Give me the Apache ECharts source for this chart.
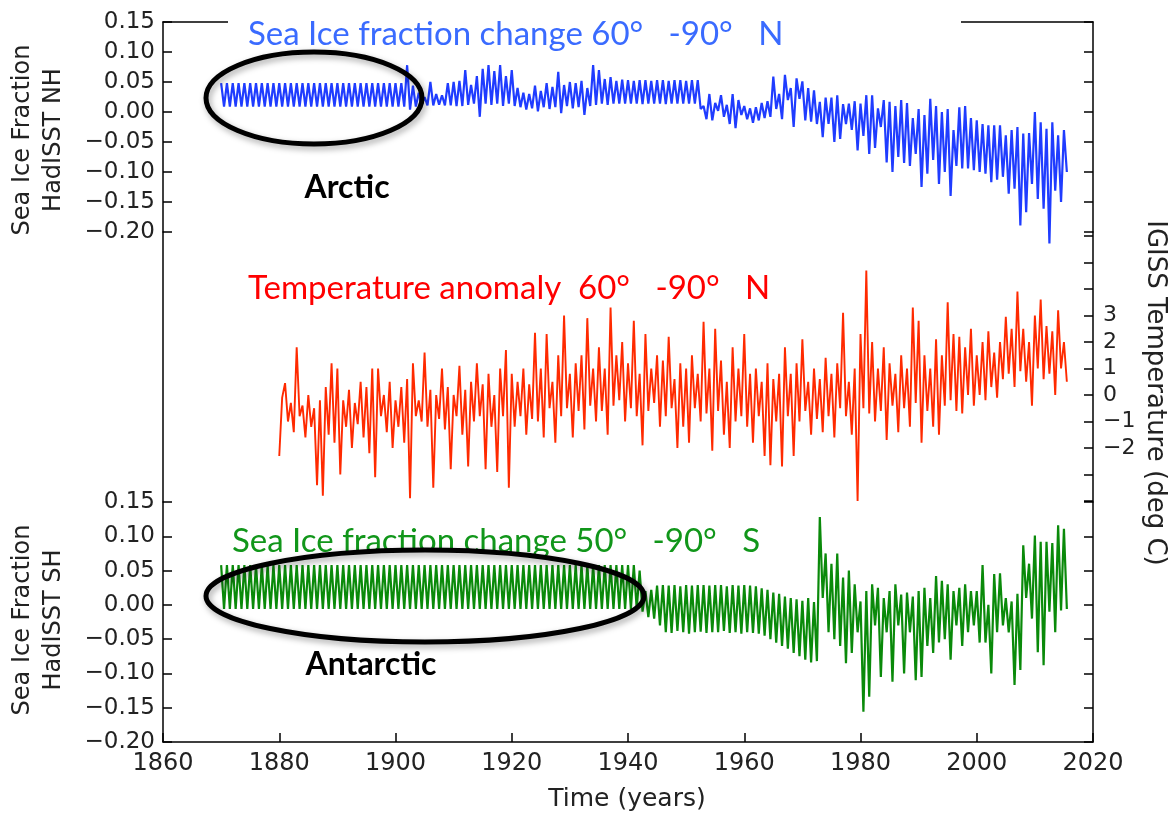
<!DOCTYPE html>
<html><head><meta charset="utf-8">
<script src="https://cdn.jsdelivr.net/npm/echarts@6/dist/echarts.min.js"></script>
<style>html,body{margin:0;padding:0;background:#fff}#c{width:1170px;height:815px}</style>
</head><body><div id="c"></div>
<script>
// two readings per year (seasonal high, seasonal low)
const STEP = 0.5;
const NH_START = 1870;
const SH_START = 1870;
const T_START = 1880;

const xTicks = [1860, 1880, 1900, 1920, 1940, 1960, 1980, 2000, 2020];
const iceTicks = [0.15, 0.10, 0.05, 0.00, -0.05, -0.10, -0.15, -0.20];
const tempTickLabels = [3, 2, 1, 0, -1, -2];

const nhIce = [
// 1870-1879
0.048,0.009, 0.048,0.009, 0.048,0.009, 0.048,0.009, 0.048,0.009, 0.048,0.009, 0.048,0.009, 0.048,0.009, 0.048,0.009, 0.048,0.009,
// 1880-1889
0.048,0.009, 0.048,0.009, 0.048,0.009, 0.048,0.009, 0.048,0.009, 0.048,0.009, 0.048,0.009, 0.048,0.009, 0.048,0.009, 0.048,0.009,
// 1890-1899
0.048,0.009, 0.048,0.009, 0.048,0.009, 0.048,0.009, 0.048,0.009, 0.048,0.009, 0.048,0.009, 0.048,0.009, 0.048,0.009, 0.048,0.009,
// 1900-1909
0.048,0.009, 0.048,0.009, 0.078,0.004, 0.044,0.009, 0.032,0.011, 0.025,0.011, 0.050,0.011, 0.030,0.012, 0.028,0.011, 0.048,0.011,
// 1910-1919
0.050,0.010, 0.052,0.010, 0.070,0.012, 0.045,0.014, 0.060,-0.008, 0.072,0.014, 0.078,0.012, 0.068,0.014, 0.078,0.010, 0.060,0.014,
// 1920-1929
0.070,0.010, 0.040,0.008, 0.032,0.004, 0.030,0.006, 0.044,0.001, 0.035,0.008, 0.048,0.005, 0.042,0.008, 0.067,-0.002, 0.045,0.010,
// 1930-1939
0.050,0.006, 0.048,0.008, 0.052,-0.005, 0.040,0.010, 0.078,0.012, 0.070,0.014, 0.055,0.012, 0.058,0.014, 0.052,0.014, 0.054,0.014,
// 1940-1949
0.053,0.014, 0.052,0.014, 0.053,0.013, 0.053,0.014, 0.052,0.014, 0.053,0.014, 0.053,0.013, 0.052,0.014, 0.053,0.014, 0.053,0.014,
// 1950-1959
0.052,0.014, 0.053,0.014, 0.053,0.005, 0.010,-0.012, 0.030,-0.014, 0.015,0.002, 0.028,-0.008, 0.012,-0.020, 0.030,-0.027, 0.020,-0.005,
// 1960-1969
0.010,-0.012, 0.006,-0.018, 0.008,-0.014, 0.015,-0.010, 0.018,-0.008, 0.059,0.005, 0.030,-0.012, 0.062,0.020, 0.040,-0.025, 0.056,0.022,
// 1970-1979
0.051,-0.014, 0.040,-0.016, 0.036,-0.020, 0.017,-0.042, 0.024,-0.020, 0.024,-0.050, 0.028,-0.045, 0.013,-0.020, 0.014,-0.030, 0.018,-0.064,
// 1980-1989
0.014,-0.040, 0.028,-0.070, 0.028,-0.060, 0.006,-0.025, 0.020,-0.084, 0.017,-0.100, 0.010,-0.075, 0.020,-0.085, 0.015,-0.090, -0.010,-0.070,
// 1990-1999
0.005,-0.125, -0.005,-0.103, 0.022,-0.080, 0.010,-0.120, 0.000,-0.100, 0.005,-0.140, -0.030,-0.090, 0.008,-0.094, 0.010,-0.094, -0.010,-0.097,
// 2000-2009
-0.014,-0.100, -0.020,-0.103, -0.022,-0.117, -0.022,-0.113, -0.022,-0.108, -0.039,-0.136, -0.030,-0.128, -0.025,-0.189, -0.036,-0.167, -0.035,-0.120,
// 2010-2015
0.000,-0.145, -0.017,-0.161, -0.028,-0.219, -0.017,-0.131, -0.039,-0.150, -0.030,-0.100
];

const shIce = [
// 1870-1879
0.058,-0.006, 0.058,-0.006, 0.058,-0.006, 0.058,-0.006, 0.058,-0.006, 0.058,-0.006, 0.058,-0.006, 0.058,-0.006, 0.058,-0.006, 0.058,-0.006,
// 1880-1889
0.058,-0.006, 0.058,-0.006, 0.058,-0.006, 0.058,-0.006, 0.058,-0.006, 0.058,-0.006, 0.058,-0.006, 0.058,-0.006, 0.058,-0.006, 0.058,-0.006,
// 1890-1899
0.058,-0.006, 0.058,-0.006, 0.058,-0.006, 0.058,-0.006, 0.058,-0.006, 0.058,-0.006, 0.058,-0.006, 0.058,-0.006, 0.058,-0.006, 0.058,-0.006,
// 1900-1909
0.058,-0.006, 0.058,-0.006, 0.058,-0.006, 0.058,-0.006, 0.058,-0.006, 0.058,-0.006, 0.058,-0.006, 0.058,-0.006, 0.058,-0.006, 0.058,-0.006,
// 1910-1919
0.058,-0.006, 0.058,-0.006, 0.058,-0.006, 0.058,-0.006, 0.058,-0.006, 0.058,-0.006, 0.058,-0.006, 0.058,-0.006, 0.058,-0.006, 0.058,-0.006,
// 1920-1929
0.058,-0.006, 0.058,-0.006, 0.058,-0.006, 0.058,-0.006, 0.058,-0.006, 0.058,-0.006, 0.058,-0.006, 0.058,-0.006, 0.058,-0.006, 0.058,-0.006,
// 1930-1939
0.058,-0.006, 0.058,-0.006, 0.058,-0.006, 0.058,-0.006, 0.058,-0.006, 0.058,-0.006, 0.058,-0.006, 0.058,-0.006, 0.058,-0.006, 0.058,-0.006,
// 1940-1949
0.058,-0.006, 0.058,-0.006, 0.050,-0.010, 0.020,-0.018, 0.022,-0.020, 0.028,-0.030, 0.029,-0.040, 0.028,-0.041, 0.029,-0.038, 0.027,-0.040,
// 1950-1959
0.029,-0.042, 0.028,-0.040, 0.029,-0.039, 0.029,-0.041, 0.028,-0.040, 0.029,-0.040, 0.029,-0.038, 0.027,-0.041, 0.029,-0.040, 0.028,-0.042,
// 1960-1969
0.029,-0.040, 0.028,-0.041, 0.027,-0.042, 0.024,-0.045, 0.022,-0.050, 0.018,-0.055, 0.016,-0.060, 0.012,-0.064, 0.010,-0.070, 0.008,-0.075,
// 1970-1979
0.006,-0.080, 0.010,-0.084, 0.004,-0.082, 0.128,0.010, 0.075,-0.040, 0.060,-0.050, 0.075,-0.060, 0.040,-0.085, 0.050,-0.070, 0.030,-0.040,
// 1980-1989
0.005,-0.156, 0.020,-0.134, 0.030,-0.030, 0.025,-0.105, 0.010,-0.040, 0.020,-0.112, 0.030,-0.030, 0.015,-0.100, 0.018,-0.040, 0.012,-0.110,
// 1990-1999
0.020,-0.105, 0.025,-0.060, 0.010,-0.070, 0.042,-0.055, 0.035,-0.050, 0.030,-0.080, 0.020,-0.030, 0.025,-0.060, 0.030,-0.040, 0.020,-0.030,
// 2000-2009
0.020,-0.055, 0.058,-0.055, 0.000,-0.100, 0.045,-0.040, 0.046,-0.030, 0.010,-0.040, 0.005,-0.117, 0.016,-0.095, 0.087,0.010, 0.060,-0.020,
// 2010-2015
0.101,-0.069, 0.092,-0.088, 0.092,-0.010, 0.090,-0.040, 0.116,-0.008, 0.111,-0.006
];

const tempAnom = [
// 1880-1889
-2.3,-0.1, 0.45,-1.0, -0.3,-1.4, 1.8,-0.8, -0.4,-1.6, 0.0,-1.2, -0.5,-3.4, -0.2,-3.8, 0.3,-1.5, 1.2,-1.8,
// 1890-1899
1.0,-3.0, -0.2,-1.2, 0.2,-2.0, -0.3,-1.1, 0.5,-1.6, 0.3,-2.2, 1.0,-3.1, 1.0,-0.8, 0.0,-1.4, 0.5,-2.0,
// 1900-1909
-0.2,-1.2, 0.3,-1.8, 0.6,-3.9, 1.2,-0.8, -0.2,-1.0, 1.6,-1.2, 0.2,-3.5, 0.0,-0.9, 1.0,-1.3, 0.3,-2.8,
// 1910-1919
0.0,-0.8, 1.1,-1.5, 0.2,-2.7, 0.5,-1.0, 1.2,-0.8, 0.4,-2.8, 0.8,-1.2, 0.0,-2.9, 1.0,-0.8, 1.7,-3.5,
// 1920-1929
0.8,-1.2, 0.5,-0.8, 1.0,-1.5, 0.4,-0.9, 2.35,-1.0, 1.0,-1.6, 2.3,-0.5, 0.5,-1.8, 1.5,-0.8, 3.0,-0.5,
// 1930-1939
0.8,-1.6, 1.2,-0.6, 1.5,-1.3, 2.9,-0.4, 1.0,-1.0, 1.8,-0.6, 1.0,-1.5, 3.3,-0.4, 1.5,-0.2, 2.0,-1.0,
// 1940-1949
1.2,-0.5, 2.8,-0.8, 0.8,-1.9, 2.3,-0.6, 1.0,-0.3, 1.5,-1.2, 1.3,-0.8, 2.2,-0.5, 0.6,-2.0, 1.2,-1.2,
// 1950-1959
1.0,-1.8, 1.5,-0.5, 0.8,-1.0, 2.76,-0.7, 1.0,-2.1, 2.5,-0.6, 1.3,-1.5, 0.5,-2.0, 1.8,-1.0, 1.0,-0.8,
// 1960-1969
2.3,-1.2, 0.8,-1.8, 1.0,-0.8, 0.5,-2.3, 1.2,-2.65, 0.6,-1.0, 0.8,-2.7, 1.8,-0.8, 0.8,-2.3, 1.2,-1.0,
// 1970-1979
2.1,-0.6, 0.5,-1.5, 1.0,-0.9, 0.6,-1.4, 1.4,-0.8, 0.8,-1.6, 1.2,-0.5, 3.1,-0.8, 0.5,-1.5, 1.0,-4.0,
// 1980-1989
2.3,-0.5, 4.7,-0.7, 2.0,-1.0, 1.0,-0.6, 1.8,-1.7, 1.2,-0.4, 0.8,-1.4, 1.5,-0.5, 1.0,-1.2, 3.3,-0.3,
// 1990-1999
2.8,-1.8, 1.5,-0.6, 1.0,-1.2, 2.1,-1.5, 1.5,-0.4, 3.5,-0.2, 2.3,-0.6, 2.2,-0.7, 1.8,0.0, 2.5,-0.4,
// 2000-2009
1.5,0.0, 2.0,-0.2, 2.4,0.3, 1.6,-0.1, 2.0,0.6, 2.95,0.8, 2.5,0.3, 3.9,0.9, 2.5,0.5, 2.0,-0.4,
// 2010-2015
3.0,1.0, 3.6,0.6, 2.6,0.8, 2.4,0.0, 3.2,1.0, 2.0,0.5
];

function toPoints(start, vals) { return vals.map((v, i) => [start + i * STEP, v]); }
const minus = s => s.replace('-', '\u2212');
const iceFmt = v => {
  const hit = iceTicks.find(t => Math.abs(t - v) < 1e-6);
  if (hit === undefined) return '';
  return minus(Math.abs(hit) < 1e-9 ? '0.00' : hit.toFixed(2));
};
const tempFmt = v => {
  const hit = tempTickLabels.find(t => Math.abs(t - v) < 1e-6);
  return hit === undefined ? '' : minus(String(hit));
};
const xFmt = v => xTicks.includes(Math.round(v)) ? String(Math.round(v)) : '';

const AX = { color: '#000', width: 1.5 };
const tickFont = { fontFamily: 'DejaVu Sans', fontSize: 23, color: '#222' };
const L = 163, W = 930;
const titleFont = '33px Lato';

const option = {
  animation: false,
  backgroundColor: '#fff',
  grid: [
    { left: L, width: W, top: 22, height: 210 },
    { left: L, width: W, top: 232, height: 270 },
    { left: L, width: W, top: 236, height: 265 },
    { left: L, width: W, top: 502, height: 240 }
  ],
  xAxis: [
    { gridIndex: 0, type: 'value', min: 1860, max: 2020, interval: 20, position: 'top',
      axisLine: { show: true, onZero: false, lineStyle: AX }, axisTick: { show: false }, axisLabel: { show: false }, splitLine: { show: false } },
    { gridIndex: 1, type: 'value', min: 1860, max: 2020, show: false },
    { gridIndex: 2, type: 'value', min: 1860, max: 2020, show: false },
    { gridIndex: 3, type: 'value', min: 1860, max: 2020, interval: 20, position: 'bottom',
      axisLine: { show: true, onZero: false, lineStyle: AX },
      axisTick: { show: true, inside: true, length: 9, lineStyle: AX },
      axisLabel: { fontFamily: 'DejaVu Sans', fontSize: 24, color: '#222', margin: 10, formatter: xFmt },
      splitLine: { show: false } }
  ],
  yAxis: [
    { gridIndex: 0, type: 'value', position: 'left', min: -0.2, max: 0.15, interval: 0.05,
      axisLine: { show: true, onZero: false, lineStyle: AX },
      axisTick: { show: true, inside: true, length: 9, lineStyle: AX },
      axisLabel: Object.assign({ margin: 8, formatter: iceFmt }, tickFont), splitLine: { show: false } },
    { gridIndex: 0, type: 'value', position: 'right', min: -0.2, max: 0.15, interval: 0.05,
      axisLine: { show: true, onZero: false, lineStyle: AX },
      axisTick: { show: true, inside: true, length: 9, lineStyle: AX },
      axisLabel: { show: false }, splitLine: { show: false } },
    { gridIndex: 1, type: 'value', position: 'left', min: 0, max: 1,
      axisLine: { show: true, onZero: false, lineStyle: AX }, axisTick: { show: false }, axisLabel: { show: false }, splitLine: { show: false } },
    { gridIndex: 1, type: 'value', position: 'right', min: 0, max: 1,
      axisLine: { show: true, onZero: false, lineStyle: AX }, axisTick: { show: false }, axisLabel: { show: false }, splitLine: { show: false } },
    { gridIndex: 2, type: 'value', position: 'right', min: -4, max: 6, interval: 1,
      axisLine: { show: false, onZero: false },
      axisTick: { show: true, inside: true, length: 9, lineStyle: AX },
      axisLabel: { margin: 10, formatter: tempFmt, fontFamily: 'DejaVu Sans', fontSize: 22, color: '#222' }, splitLine: { show: false } },
    { gridIndex: 3, type: 'value', position: 'left', min: -0.2, max: 0.15, interval: 0.05,
      axisLine: { show: true, onZero: false, lineStyle: AX },
      axisTick: { show: true, inside: true, length: 9, lineStyle: AX },
      axisLabel: Object.assign({ margin: 8, formatter: iceFmt }, tickFont), splitLine: { show: false } },
    { gridIndex: 3, type: 'value', position: 'right', min: -0.2, max: 0.15, interval: 0.05,
      axisLine: { show: true, onZero: false, lineStyle: AX },
      axisTick: { show: true, inside: true, length: 9, lineStyle: AX },
      axisLabel: { show: false }, splitLine: { show: false } }
  ],
  series: [
    { name: 'NH', type: 'line', xAxisIndex: 0, yAxisIndex: 0, data: toPoints(NH_START, nhIce),
      showSymbol: false, clip: false, silent: true, z: 3,
      lineStyle: { color: '#1f3cff', width: 2.2 }, itemStyle: { color: '#1f3cff' } },
    { name: 'Temp', type: 'line', xAxisIndex: 2, yAxisIndex: 4, data: toPoints(T_START, tempAnom),
      showSymbol: false, clip: false, silent: true, z: 3,
      lineStyle: { color: '#ff2a00', width: 1.9 }, itemStyle: { color: '#ff2a00' } },
    { name: 'SH', type: 'line', xAxisIndex: 3, yAxisIndex: 5, data: toPoints(SH_START, shIce),
      showSymbol: false, clip: false, silent: true, z: 3,
      lineStyle: { color: '#0a8a0a', width: 2.2 }, itemStyle: { color: '#0a8a0a' } }
  ],
  graphic: [
    { type: 'rect', silent: true, z: 10, shape: { x: 228, y: 0, width: 733, height: 30 }, style: { fill: '#fff' } },
    { type: 'text', silent: true, z: 11, x: 248, y: 34,
      style: { text: 'Sea Ice fraction change 60°   -90°   N', font: titleFont, fill: '#3a6bff', textAlign: 'left', textVerticalAlign: 'middle', align: 'left', verticalAlign: 'middle' } },
    { type: 'text', silent: true, z: 11, x: 248, y: 288,
      style: { text: 'Temperature anomaly  60°   -90°   N', font: titleFont, fill: '#ff0000', textAlign: 'left', textVerticalAlign: 'middle', align: 'left', verticalAlign: 'middle' } },
    { type: 'text', silent: true, z: 11, x: 232, y: 541,
      style: { text: 'Sea Ice fraction change 50°   -90°   S', font: titleFont, fill: '#11961a', textAlign: 'left', textVerticalAlign: 'middle', align: 'left', verticalAlign: 'middle' } },
    { type: 'text', silent: true, z: 11, x: 347, y: 188,
      style: { text: 'Arctic', font: 'bold 32px Lato', fill: '#000', textAlign: 'center', textVerticalAlign: 'middle', align: 'center', verticalAlign: 'middle' } },
    { type: 'text', silent: true, z: 11, x: 371, y: 665,
      style: { text: 'Antarctic', font: 'bold 32px Lato', fill: '#000', textAlign: 'center', textVerticalAlign: 'middle', align: 'center', verticalAlign: 'middle' } },
    { type: 'ellipse', silent: true, z: 20, shape: { cx: 314, cy: 98, rx: 108, ry: 46 },
      style: { fill: 'none', stroke: '#000', lineWidth: 5, shadowBlur: 6, shadowColor: 'rgba(0,0,0,0.35)', shadowOffsetX: 2, shadowOffsetY: 3 } },
    { type: 'ellipse', silent: true, z: 20, shape: { cx: 425, cy: 596, rx: 219, ry: 46 },
      style: { fill: 'none', stroke: '#000', lineWidth: 5, shadowBlur: 6, shadowColor: 'rgba(0,0,0,0.35)', shadowOffsetX: 2, shadowOffsetY: 3 } },
    { type: 'text', silent: true, z: 11, x: 38, y: 140, rotation: Math.PI / 2,
      style: { text: 'Sea Ice Fraction\nHadISST NH', font: '24px "DejaVu Sans"', lineHeight: 31, fill: '#222', textAlign: 'center', textVerticalAlign: 'middle', align: 'center', verticalAlign: 'middle' } },
    { type: 'text', silent: true, z: 11, x: 38, y: 620, rotation: Math.PI / 2,
      style: { text: 'Sea Ice Fraction\nHadISST SH', font: '24px "DejaVu Sans"', lineHeight: 31, fill: '#222', textAlign: 'center', textVerticalAlign: 'middle', align: 'center', verticalAlign: 'middle' } },
    { type: 'text', silent: true, z: 11, x: 1155, y: 393, rotation: -Math.PI / 2,
      style: { text: 'IGISS Temperature (deg C)', font: '26px "DejaVu Sans"', fill: '#222', textAlign: 'center', textVerticalAlign: 'middle', align: 'center', verticalAlign: 'middle' } },
    { type: 'text', silent: true, z: 11, x: 627, y: 799,
      style: { text: 'Time (years)', font: '25px "DejaVu Sans"', fill: '#222', textAlign: 'center', textVerticalAlign: 'middle', align: 'center', verticalAlign: 'middle' } }
  ]
};

const chart = echarts.init(document.getElementById('c'), null, { renderer: 'canvas' });
chart.setOption(option);
</script>
</body></html>
